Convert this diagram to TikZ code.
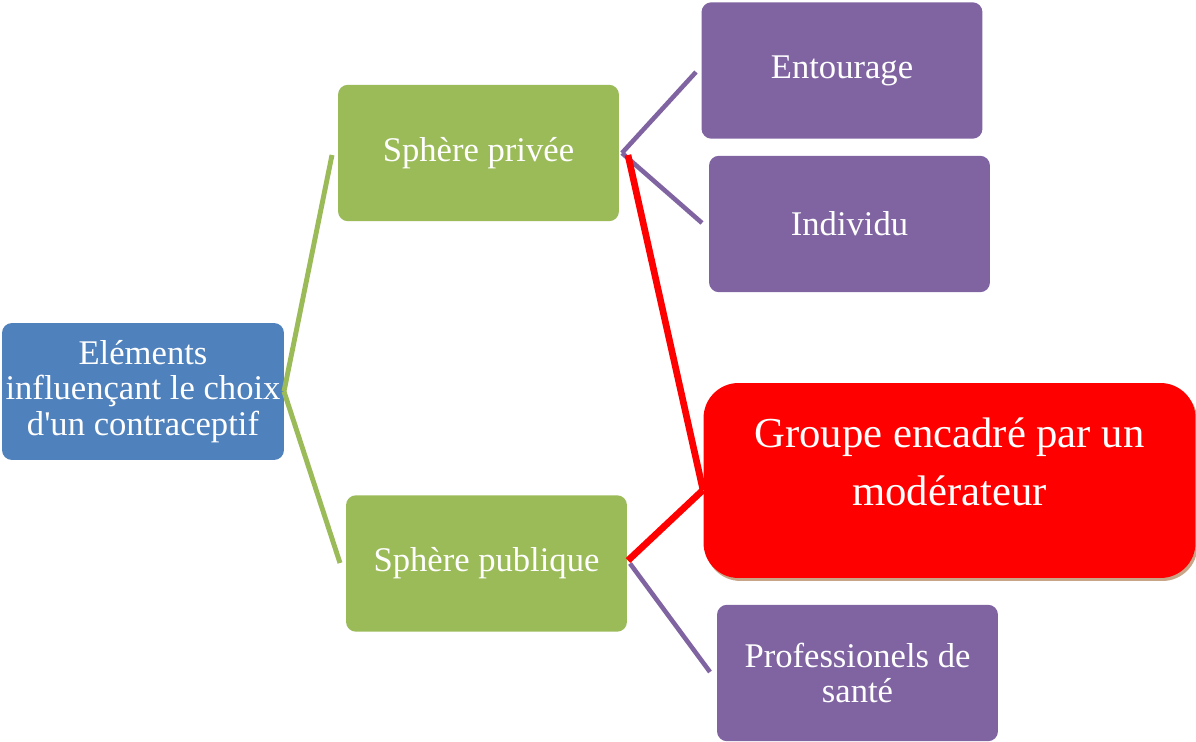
\documentclass[tikz,border=0pt]{standalone}
\usepackage{fontspec}
\setmainfont{Liberation Serif}
\usetikzlibrary{calc}
\definecolor{cblue}{HTML}{4F81BD}
\definecolor{cgreen}{HTML}{9BBB59}
\definecolor{cpurple}{HTML}{8064A2}
\definecolor{cred}{HTML}{FF0000}
\definecolor{cshadow}{HTML}{C9A587}
\begin{document}
\begin{tikzpicture}[x=0.02cm,y=-0.02cm,
  box/.style={rounded corners=0.2cm, inner sep=0pt, outer sep=0pt, text=white, align=center,
    font=\fontsize{19.7}{20.2}\selectfont},
  bluebox/.style={box, fill=cblue, minimum width=5.64cm, minimum height=2.74cm},
  greenbox/.style={box, fill=cgreen, minimum width=5.62cm, minimum height=2.73cm},
  purplebox/.style={box, fill=cpurple, minimum width=5.62cm, minimum height=2.73cm},
  redbox/.style={rounded corners=0.7cm, inner sep=0pt, outer sep=0pt, fill=cred,
    minimum width=9.84cm, minimum height=3.9cm},
  gline/.style={cgreen, line width=2.8pt},
  pline/.style={cpurple, line width=2.6pt},
  rline/.style={cred, line width=3.8pt}]
\useasboundingbox (0,0) rectangle (1196,742);
% boxes
\node[bluebox] (root) at (143,391.5) {Eléments\\influençant le choix\\d\textquotesingle un contraceptif};
\node[greenbox] (priv) at (478.5,153) {Sphère privée};
\node[greenbox] (pub) at (486.5,563.5) {Sphère publique};
\node[purplebox] (ent) at (842,70.5) {Entourage};
\node[purplebox] (ind) at (849.5,224) {Individu};
\node[purplebox] (pro) at (857.5,673) {Professionels de\\santé};
\node[redbox, fill=cshadow] (redsh) at (951.5,483.5) {};
\node[redbox] (grp) at (949.5,480.5) {};
\node[text=white, align=center, font=\fontsize{24.3}{33}\selectfont] (grptext) at (949.5,462) {Groupe encadré par un\\modérateur};
% connector ends
\coordinate (g1) at (332,155);
\coordinate (g2) at (340,563);
\coordinate (p1) at (696,72);
\coordinate (p2) at (702,223);
\coordinate (p3) at (710,672);
\coordinate (r1) at (703,490);
% connectors
\draw[gline] (root.east) -- (g1);
\draw[gline] (root.east) -- (g2);
\draw[pline] ($(priv.east)+(3,0)$) -- (p1);
\draw[pline] ($(priv.east)+(3,0)$) -- (p2);
\draw[pline] ($(pub.east)+(3,0)$) -- (p3);
\draw[rline] ($(priv.east)+(9,2)$) -- (r1);
\draw[rline] ($(pub.east)+(1,-3)$) -- (r1);
\end{tikzpicture}
\end{document}
